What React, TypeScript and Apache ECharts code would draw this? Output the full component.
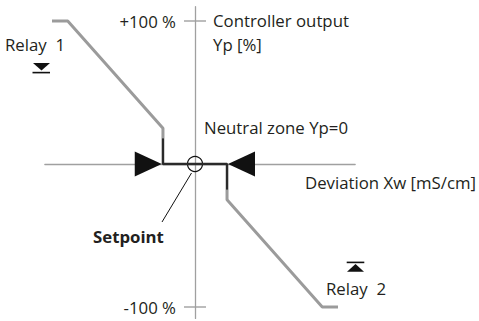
import React, { useEffect, useRef } from "react";
import * as echarts from "echarts";

// ---- data ----
const xExtent = [-105, 112];
const yExtent = [-108, 110];
const yTickValues = [-100, 100];
const yTickLabels = ["-100 %", "+100 %"];
const relay1Curve: number[][] = [
  [-100, 100],
  [-89, 100],
  [-22.4, 25],
  [-22.4, 18],
];
const neutralZone: number[][] = [
  [-22.4, 18],
  [-22.4, 0],
  [22.4, 0],
  [22.4, -18],
];
const relay2Curve: number[][] = [
  [22.4, -18],
  [22.4, -25],
  [89, -100],
  [100, -100],
];
const arrowRight: number[][] = [[-32.7, 0]];
const arrowLeft: number[][] = [[32.5, 0]];
const setpointPoint: number[][] = [[0, 0]];
const tickHalf = 7.7;

const FONT = "'Open Sans', 'Noto Sans', sans-serif";
const FS = 16.8;
const TXT = "#231f20";
const GRAY = "#9b9b9b";
const AXIS = "#a0a0a0";

export default function App() {
  const ref = useRef<HTMLDivElement>(null);
  useEffect(() => {
    if (!ref.current) return;
    const chart = echarts.init(ref.current, null, { renderer: "svg" });
    const txt = (text: string, x: number, y: number, bold = false) => ({
      type: "text",
      x,
      y,
      style: {
        text,
        fill: TXT,
        font: `${bold ? "bold " : ""}${FS}px ${FONT}`,
        textVerticalAlign: "middle",
      },
    });
    chart.setOption({
      animation: false,
      grid: {
        left: 44.85,
        top: 6.7,
        width: (xExtent[1] - xExtent[0]) * 1.43,
        height: (yExtent[1] - yExtent[0]) * 1.43,
        containLabel: false,
        outerBoundsMode: "none",
      },
      xAxis: {
        type: "value",
        min: xExtent[0],
        max: xExtent[1],
        axisLine: { show: true, onZero: true, lineStyle: { color: AXIS, width: 1.3 } },
        axisTick: { show: false },
        axisLabel: { show: false },
        splitLine: { show: false },
      },
      yAxis: {
        type: "value",
        min: yExtent[0],
        max: yExtent[1],
        axisLine: { show: true, onZero: true, lineStyle: { color: AXIS, width: 1.3 } },
        axisTick: { show: false },
        axisLabel: { show: false },
        splitLine: { show: false },
      },
      graphic: [
        txt("Controller output", 213, 20),
        txt("Yp [%]", 213, 44),
        txt("Relay  1", 5, 44),
        txt("Neutral zone Yp=0", 204, 127),
        txt("Setpoint", 93, 236, true),
        txt("Deviation Xw [mS/cm]", 305, 182),
        txt("Relay  2", 326, 288),
        {
          type: "polygon",
          shape: { points: [[33, 63], [50, 63], [41.5, 70.5]] },
          style: { fill: "#111" },
        },
        { type: "rect", shape: { x: 32.5, y: 71.8, width: 17.5, height: 1.6 }, style: { fill: "#111" } },
        {
          type: "polygon",
          shape: { points: [[347, 271.7], [364, 271.7], [355.5, 264]] },
          style: { fill: "#111" },
        },
        { type: "rect", shape: { x: 346.7, y: 261.6, width: 17.6, height: 1.6 }, style: { fill: "#111" } },
        {
          type: "line",
          shape: { x1: 191.5, y1: 173, x2: 162, y2: 222 },
          style: { stroke: "#111", lineWidth: 1 },
        },
      ],
      series: [
        {
          type: "custom",
          data: yTickValues.map((v, i) => [v, i]),
          silent: true,
          clip: false,
          z: 5,
          renderItem: (params: any, api: any) => {
            const v = api.value(0);
            const i = api.value(1);
            const a = api.coord([-tickHalf, v]);
            const b = api.coord([tickHalf, v]);
            const c = api.coord([0, v]);
            return {
              type: "group",
              children: [
                {
                  type: "rect",
                  shape: { x: a[0], y: a[1] - 0.7, width: b[0] - a[0], height: 1.4 },
                  style: { fill: AXIS },
                },
                {
                  type: "text",
                  x: c[0] - 19,
                  y: c[1],
                  style: {
                    text: yTickLabels[i],
                    fill: TXT,
                    font: `${FS}px ${FONT}`,
                    textAlign: "right",
                    textVerticalAlign: "middle",
                  },
                },
              ],
            };
          },
        },
        {
          type: "line",
          data: relay1Curve,
          symbol: "none",
          lineStyle: { color: GRAY, width: 3 },
        },
        {
          type: "line",
          data: relay2Curve,
          symbol: "none",
          lineStyle: { color: GRAY, width: 3 },
        },
        {
          type: "line",
          data: neutralZone,
          symbol: "none",
          lineStyle: { color: "#2a2a2a", width: 2.5 },
        },
        {
          type: "scatter",
          data: arrowRight,
          symbol: "triangle",
          symbolSize: [25, 27],
          symbolRotate: -90,
          itemStyle: { color: "#111", opacity: 1 },
        },
        {
          type: "scatter",
          data: arrowLeft,
          symbol: "triangle",
          symbolSize: [25, 27],
          symbolRotate: 90,
          itemStyle: { color: "#111", opacity: 1 },
        },
        {
          type: "scatter",
          data: setpointPoint,
          symbol: "circle",
          symbolSize: 15,
          itemStyle: { color: "rgba(0,0,0,0)", borderColor: "#111", borderWidth: 1.2, opacity: 1 },
        },
      ],
    });
    return () => chart.dispose();
  }, []);
  return (
    <div
      ref={ref}
      style={{ position: "fixed", left: 0, top: 0, width: 479, height: 321, background: "#fff" }}
    />
  );
}
